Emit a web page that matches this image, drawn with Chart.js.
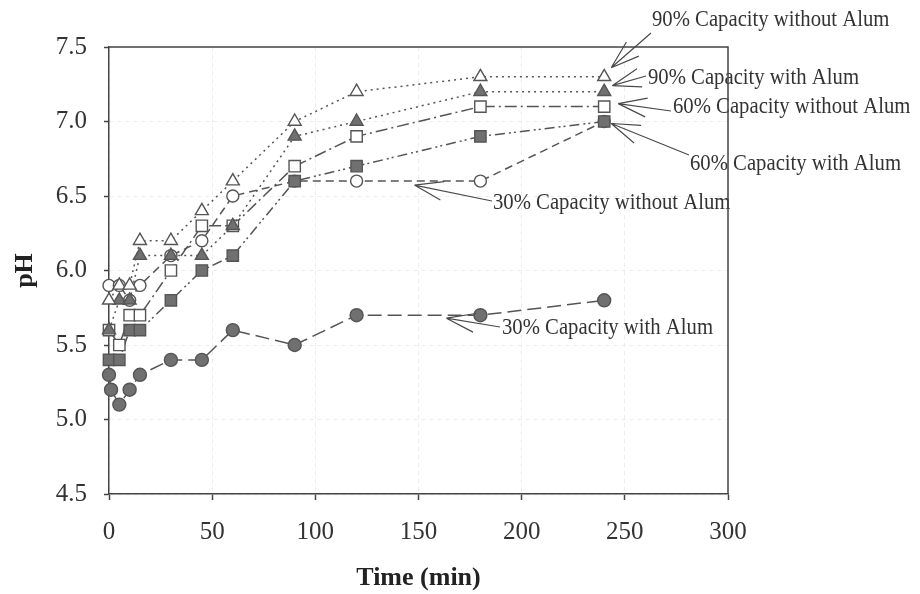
<!DOCTYPE html>
<html>
<head>
<meta charset="utf-8">
<script src="https://cdn.jsdelivr.net/npm/chart.js@4/dist/chart.umd.min.js"></script>
<style>
  html, body { margin: 0; padding: 0; background: #ffffff; }
  #wrap { width: 920px; height: 594px; }
</style>
</head>
<body>
<div id="wrap"><canvas id="phChart" width="920" height="594"></canvas></div>
<script>
// Sampling times (min)
const timeMin    = [0, 5, 10, 15, 30, 45, 60, 90, 120, 180, 240];
const time30With = [0, 1, 5, 10, 15, 30, 45, 60, 90, 120, 180, 240];

// pH readings per run
const ph90Without = [5.8, 5.9, 5.9, 6.2, 6.2, 6.4, 6.6, 7.0, 7.2, 7.3, 7.3];
const ph90With    = [5.6, 5.8, 5.8, 6.1, 6.1, 6.1, 6.3, 6.9, 7.0, 7.2, 7.2];
const ph60Without = [5.6, 5.5, 5.7, 5.7, 6.0, 6.3, 6.3, 6.7, 6.9, 7.1, 7.1];
const ph60With    = [5.4, 5.4, 5.6, 5.6, 5.8, 6.0, 6.1, 6.6, 6.7, 6.9, 7.0];
const ph30Without = [5.9, 5.9, 5.8, 5.9, 6.1, 6.2, 6.5, 6.6, 6.6, 6.6, 7.0];
const ph30With    = [5.3, 5.2, 5.1, 5.2, 5.3, 5.4, 5.4, 5.6, 5.5, 5.7, 5.7, 5.8];

const seriesNames = [
  '90% Capacity without Alum',
  '90% Capacity with Alum',
  '60% Capacity without Alum',
  '60% Capacity with Alum',
  '30% Capacity without Alum',
  '30% Capacity with Alum'
];

// Axis ticks
const xTicks = [0, 50, 100, 150, 200, 250, 300];
const yTicks = [4.5, 5.0, 5.5, 6.0, 6.5, 7.0, 7.5];
const yTickLabels = ['4.5', '5.0', '5.5', '6.0', '6.5', '7.0', '7.5'];

const pairs = (xs, ys) => xs.map((t, i) => ({ x: t, y: ys[i] }));

const LINE = '#555555';
const FILL = '#707070';
const SERIF = "'Liberation Serif', 'Times New Roman', serif";

function series(label, xs, ys, style, filled, radius, dash) {
  return {
    label,
    data: pairs(xs, ys),
    clip: false,
    borderColor: LINE,
    borderWidth: 1.5,
    borderDash: dash,
    pointStyle: style,
    pointRadius: radius,
    pointHoverRadius: radius,
    pointBorderWidth: 1.4,
    pointBorderColor: LINE,
    pointBackgroundColor: filled ? FILL : '#ffffff',
    fill: false,
    tension: 0
  };
}

const datasets = [
  series(seriesNames[0], timeMin,    ph90Without, 'triangle', false, 7.5, [2, 4]),
  series(seriesNames[1], timeMin,    ph90With,    'triangle', true,  7.5, [2, 4]),
  series(seriesNames[2], timeMin,    ph60Without, 'rect',     false, 8,   [12, 4, 2, 4]),
  series(seriesNames[3], timeMin,    ph60With,    'rect',     true,  8,   [10, 4, 2, 3, 2, 4]),
  series(seriesNames[4], timeMin,    ph30Without, 'circle',   false, 6,   [8, 5]),
  series(seriesNames[5], time30With, ph30With,    'circle',   true,  6.5, [14, 6])
];

// Callout labels: text position plus an arrow aimed near a chosen point
const notes = [
  { series: 0, point: 10, dx: 7,   dy: -9, ex: 651, ey: 33,  tx: 652, ty: 20 },
  { series: 1, point: 10, dx: 8,   dy: -6, ex: 646, ey: 76,  tx: 648, ty: 78 },
  { series: 2, point: 10, dx: 14,  dy: -3, ex: 671, ey: 111, tx: 673, ty: 107 },
  { series: 3, point: 10, dx: 7,   dy: 2,  ex: 689, ey: 155, tx: 690, ty: 164 },
  { series: 4, point: 9,  dx: -66, dy: 4,  ex: 492, ey: 201, tx: 493, ty: 203 },
  { series: 5, point: 10, dx: -34, dy: 3,  ex: 500, ey: 327, tx: 502, ty: 328 }
];

const calloutsAndFrame = {
  id: 'calloutsAndFrame',
  afterDatasetsDraw(chart) {
    const { ctx, chartArea: a, scales } = chart;
    const xs = scales.x, ys = scales.y;
    ctx.save();
    ctx.setLineDash([]);
    ctx.strokeStyle = '#4a4a4a';
    ctx.lineWidth = 1.2;
    ctx.fillStyle = '#333333';
    ctx.font = '23px ' + SERIF;
    ctx.textBaseline = 'middle';
    ctx.textAlign = 'left';
    notes.forEach(n => {
      const p = chart.data.datasets[n.series].data[n.point];
      const px = xs.getPixelForValue(p.x) + n.dx;
      const py = ys.getPixelForValue(p.y) + n.dy;
      const ang = Math.atan2(n.ey - py, n.ex - px);
      ctx.beginPath();
      ctx.moveTo(px, py);
      ctx.lineTo(n.ex, n.ey);
      [-0.32, 0.32].forEach(d => {
        ctx.moveTo(px, py);
        ctx.lineTo(px + 30 * Math.cos(ang + d), py + 30 * Math.sin(ang + d));
      });
      ctx.stroke();
      ctx.save();
      ctx.translate(n.tx, n.ty);
      ctx.scale(0.9, 1);
      ctx.fillText(chart.data.datasets[n.series].label, 0, 0);
      ctx.restore();
    });
    // top and right edges of the plot frame
    ctx.strokeStyle = '#444444';
    ctx.lineWidth = 1.5;
    ctx.beginPath();
    ctx.moveTo(a.left, a.top);
    ctx.lineTo(a.right, a.top);
    ctx.lineTo(a.right, a.bottom);
    ctx.stroke();
    ctx.restore();
  }
};

new Chart(document.getElementById('phChart'), {
  type: 'line',
  data: { datasets },
  options: {
    responsive: false,
    animation: false,
    devicePixelRatio: 1,
    layout: { padding: { left: 10, right: 192, top: 47, bottom: 0 } },
    plugins: {
      legend: { display: false },
      tooltip: { enabled: false },
      title: { display: false }
    },
    scales: {
      x: {
        type: 'linear',
        min: 0,
        max: 300,
        afterBuildTicks: s => { s.ticks = xTicks.map(v => ({ value: v })); },
        afterFit: s => { s.height = 100; },
        ticks: {
          color: '#333333',
          font: { family: SERIF, size: 25 },
          padding: 17,
          maxRotation: 0,
          autoSkip: false,
          callback: v => String(v)
        },
        grid: {
          color: '#ececec',
          lineWidth: 1,
          tickLength: 6,
          tickColor: '#444444',
          tickWidth: 1.5,
          drawTicks: true
        },
        border: { display: true, color: '#444444', width: 1.5, dash: [4, 4] },
        title: {
          display: true,
          text: 'Time (min)',
          color: '#222222',
          font: { family: SERIF, size: 26, weight: 'bold' },
          padding: { top: 0, bottom: 0 }
        }
      },
      y: {
        type: 'linear',
        min: 4.5,
        max: 7.5,
        afterBuildTicks: s => { s.ticks = yTicks.map(v => ({ value: v })); },
        afterFit: s => { s.width = 99; },
        ticks: {
          color: '#333333',
          font: { family: SERIF, size: 25 },
          padding: 17,
          autoSkip: false,
          callback: v => yTickLabels[yTicks.indexOf(v)]
        },
        grid: {
          color: '#ececec',
          lineWidth: 1,
          tickLength: 5,
          tickColor: '#444444',
          tickWidth: 1.5,
          drawTicks: true
        },
        border: { display: true, color: '#444444', width: 1.5, dash: [4, 4] },
        title: {
          display: true,
          text: 'pH',
          color: '#222222',
          font: { family: SERIF, size: 26, weight: 'bold' },
          padding: { top: 0, bottom: 0 }
        }
      }
    }
  },
  plugins: [calloutsAndFrame]
});
</script>
</body>
</html>
